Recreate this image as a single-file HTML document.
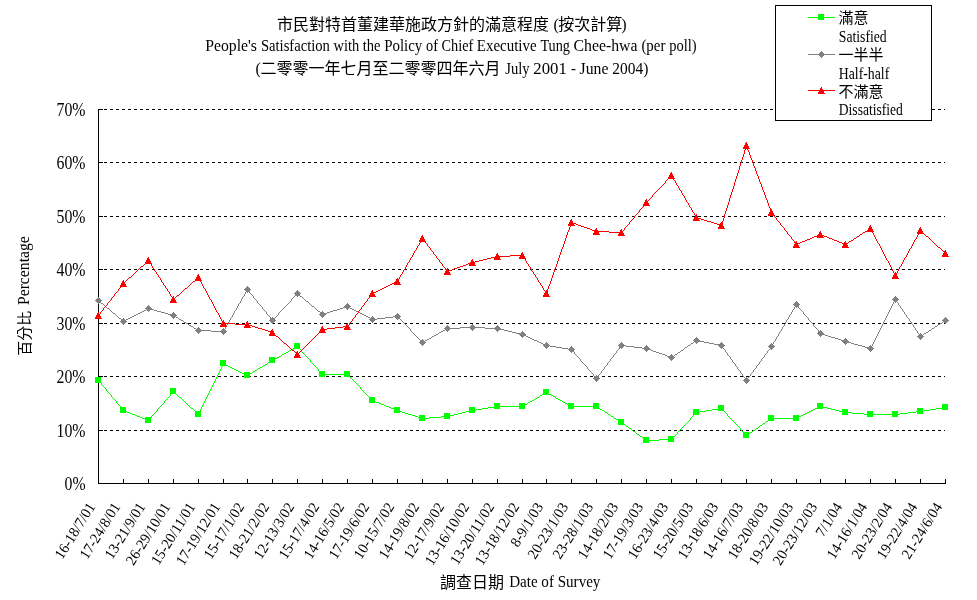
<!DOCTYPE html>
<html><head><meta charset="utf-8"><title>Chart</title>
<style>html,body{margin:0;padding:0;background:#fff}svg{display:block;position:absolute;left:0;top:0;will-change:transform}text{fill:#000}</style></head>
<body>
<svg width="977" height="600" viewBox="0 0 977 600">
<desc>市民對特首董建華施政方針的滿意程度 (按次計算) People's Satisfaction with the Policy of Chief Executive Tung Chee-hwa (per poll) (二零零一年七月至二零零四年六月 July 2001 - June 2004); 滿意 Satisfied; 一半半 Half-half; 不滿意 Dissatisfied; 百分比 Percentage; 調查日期 Date of Survey</desc>
<rect width="977" height="600" fill="#fff"/>
<g stroke="#000" stroke-width="1" shape-rendering="crispEdges" fill="none">
<line x1="98" y1="430.5" x2="945" y2="430.5" stroke-dasharray="3,3"/>
<line x1="99" y1="430.5" x2="103" y2="430.5"/>
<line x1="98" y1="376.5" x2="945" y2="376.5" stroke-dasharray="3,3"/>
<line x1="99" y1="376.5" x2="103" y2="376.5"/>
<line x1="98" y1="323.5" x2="945" y2="323.5" stroke-dasharray="3,3"/>
<line x1="99" y1="323.5" x2="103" y2="323.5"/>
<line x1="98" y1="269.5" x2="945" y2="269.5" stroke-dasharray="3,3"/>
<line x1="99" y1="269.5" x2="103" y2="269.5"/>
<line x1="98" y1="216.5" x2="945" y2="216.5" stroke-dasharray="3,3"/>
<line x1="99" y1="216.5" x2="103" y2="216.5"/>
<line x1="98" y1="162.5" x2="945" y2="162.5" stroke-dasharray="3,3"/>
<line x1="99" y1="162.5" x2="103" y2="162.5"/>
<line x1="98" y1="109.5" x2="945" y2="109.5" stroke-dasharray="3,3"/>
<line x1="99" y1="109.5" x2="103" y2="109.5"/>
<line x1="98.5" y1="109" x2="98.5" y2="484"/>
<line x1="98" y1="483.5" x2="946" y2="483.5"/>
<line x1="98.5" y1="479" x2="98.5" y2="484"/>
<line x1="123.5" y1="479" x2="123.5" y2="484"/>
<line x1="148.5" y1="479" x2="148.5" y2="484"/>
<line x1="173.5" y1="479" x2="173.5" y2="484"/>
<line x1="198.5" y1="479" x2="198.5" y2="484"/>
<line x1="223.5" y1="479" x2="223.5" y2="484"/>
<line x1="247.5" y1="479" x2="247.5" y2="484"/>
<line x1="272.5" y1="479" x2="272.5" y2="484"/>
<line x1="297.5" y1="479" x2="297.5" y2="484"/>
<line x1="322.5" y1="479" x2="322.5" y2="484"/>
<line x1="347.5" y1="479" x2="347.5" y2="484"/>
<line x1="372.5" y1="479" x2="372.5" y2="484"/>
<line x1="397.5" y1="479" x2="397.5" y2="484"/>
<line x1="422.5" y1="479" x2="422.5" y2="484"/>
<line x1="447.5" y1="479" x2="447.5" y2="484"/>
<line x1="472.5" y1="479" x2="472.5" y2="484"/>
<line x1="497.5" y1="479" x2="497.5" y2="484"/>
<line x1="522.5" y1="479" x2="522.5" y2="484"/>
<line x1="546.5" y1="479" x2="546.5" y2="484"/>
<line x1="571.5" y1="479" x2="571.5" y2="484"/>
<line x1="596.5" y1="479" x2="596.5" y2="484"/>
<line x1="621.5" y1="479" x2="621.5" y2="484"/>
<line x1="646.5" y1="479" x2="646.5" y2="484"/>
<line x1="671.5" y1="479" x2="671.5" y2="484"/>
<line x1="696.5" y1="479" x2="696.5" y2="484"/>
<line x1="721.5" y1="479" x2="721.5" y2="484"/>
<line x1="746.5" y1="479" x2="746.5" y2="484"/>
<line x1="771.5" y1="479" x2="771.5" y2="484"/>
<line x1="796.5" y1="479" x2="796.5" y2="484"/>
<line x1="820.5" y1="479" x2="820.5" y2="484"/>
<line x1="845.5" y1="479" x2="845.5" y2="484"/>
<line x1="870.5" y1="479" x2="870.5" y2="484"/>
<line x1="895.5" y1="479" x2="895.5" y2="484"/>
<line x1="920.5" y1="479" x2="920.5" y2="484"/>
<line x1="945.5" y1="479" x2="945.5" y2="484"/>
</g>
<g shape-rendering="crispEdges">
<path d="M295 347.5h2M293 348.5h2M291 349.5h2M289 350.5h2M286 352.5h2M284 353.5h2M282 354.5h2M279 356.5h2M277 357.5h2M275 358.5h2M273 359.5h2M270 361.5h2M268 362.5h2M223 364.5h3M265 364.5h2M226 365.5h2M263 365.5h2M228 366.5h2M230 367.5h2M260 367.5h2M232 368.5h2M258 368.5h2M234 369.5h2M236 370.5h2M255 370.5h2M238 371.5h2M253 371.5h2M240 372.5h2M242 373.5h2M250 373.5h2M244 374.5h2M248 374.5h2M322 374.5h26M246 375.5h2M544 393.5h2M547 393.5h2M542 394.5h2M549 394.5h2M540 395.5h2M551 395.5h2M553 396.5h2M179 397.5h2M537 397.5h2M535 398.5h2M556 398.5h2M558 399.5h2M372 400.5h2M532 400.5h2M560 400.5h2M374 401.5h2M530 401.5h2M376 402.5h3M528 402.5h2M563 402.5h2M379 403.5h2M565 403.5h2M381 404.5h3M525 404.5h2M567 404.5h2M384 405.5h2M523 405.5h2M569 405.5h2M386 406.5h3M494 406.5h29M571 406.5h26M819 406.5h4M389 407.5h2M488 407.5h6M597 407.5h2M817 407.5h2M823 407.5h4M942 407.5h4M191 408.5h2M391 408.5h3M482 408.5h6M718 408.5h4M815 408.5h2M827 408.5h4M936 408.5h6M394 409.5h2M476 409.5h6M600 409.5h2M712 409.5h6M813 409.5h2M831 409.5h4M930 409.5h6M123 410.5h2M396 410.5h3M470 410.5h6M602 410.5h2M706 410.5h6M811 410.5h2M835 410.5h4M924 410.5h6M125 411.5h2M399 411.5h3M466 411.5h4M700 411.5h6M809 411.5h2M839 411.5h4M916 411.5h8M127 412.5h3M402 412.5h3M462 412.5h4M605 412.5h2M696 412.5h4M807 412.5h2M843 412.5h9M908 412.5h8M130 413.5h2M197 413.5h2M405 413.5h3M458 413.5h4M805 413.5h2M852 413.5h12M900 413.5h8M132 414.5h3M408 414.5h4M454 414.5h4M608 414.5h2M803 414.5h2M864 414.5h36M135 415.5h2M412 415.5h3M450 415.5h4M801 415.5h2M137 416.5h3M415 416.5h3M441 416.5h9M611 416.5h2M799 416.5h2M140 417.5h2M418 417.5h3M429 417.5h12M797 417.5h2M142 418.5h3M421 418.5h8M614 418.5h2M771 418.5h26M145 419.5h2M616 419.5h2M769 419.5h2M147 420.5h2M619 421.5h2M766 421.5h2M622 423.5h2M763 423.5h2M760 425.5h2M626 426.5h2M629 428.5h2M756 428.5h2M753 430.5h2M633 431.5h2M750 432.5h2M637 434.5h2M747 434.5h2M640 436.5h2M644 439.5h2M659 439.5h13M646 440.5h13M297.5 346v1M298.5 347v1M299.5 348v1M300.5 349v1M301.5 350v2M288.5 351v1M302.5 352v1M303.5 353v1M304.5 354v1M281.5 355v1M305.5 355v1M306.5 356v1M307.5 357v1M308.5 358v1M309.5 359v1M272.5 360v1M310.5 360v2M311.5 362v1M223.5 363v1M267.5 363v1M312.5 363v1M313.5 364v1M222.5 365v2M314.5 365v1M262.5 366v1M315.5 366v1M221.5 367v2M316.5 367v1M317.5 368v1M220.5 369v2M257.5 369v1M318.5 369v2M219.5 371v2M319.5 371v1M252.5 372v1M320.5 372v1M218.5 373v2M321.5 373v1M217.5 375v2M348.5 375v1M349.5 376v1M216.5 377v2M350.5 377v1M351.5 378v1M215.5 379v2M352.5 379v1M98.5 380v1M353.5 380v1M99.5 381v1M214.5 381v2M354.5 381v1M100.5 382v1M355.5 382v1M101.5 383v2M213.5 383v2M356.5 383v1M357.5 384v1M102.5 385v1M212.5 385v2M358.5 385v1M103.5 386v1M359.5 386v1M104.5 387v1M211.5 387v2M360.5 387v2M105.5 388v1M106.5 389v2M210.5 389v2M361.5 389v1M362.5 390v1M107.5 391v1M173.5 391v1M209.5 391v2M363.5 391v1M108.5 392v1M172.5 392v1M174.5 392v1M364.5 392v1M546.5 392v1M109.5 393v1M171.5 393v1M175.5 393v1M208.5 393v2M365.5 393v1M110.5 394v1M170.5 394v2M176.5 394v1M366.5 394v1M111.5 395v2M177.5 395v1M207.5 395v2M367.5 395v1M169.5 396v1M178.5 396v1M368.5 396v1M539.5 396v1M112.5 397v1M168.5 397v1M206.5 397v2M369.5 397v1M555.5 397v1M113.5 398v1M167.5 398v1M181.5 398v1M370.5 398v1M114.5 399v1M166.5 399v1M182.5 399v1M205.5 399v2M371.5 399v1M534.5 399v1M115.5 400v1M165.5 400v1M183.5 400v1M116.5 401v2M164.5 401v2M184.5 401v1M204.5 401v2M562.5 401v1M185.5 402v1M117.5 403v1M163.5 403v1M186.5 403v1M203.5 403v2M527.5 403v1M118.5 404v1M162.5 404v1M187.5 404v1M119.5 405v1M161.5 405v1M188.5 405v1M202.5 405v2M120.5 406v1M160.5 406v1M189.5 406v1M121.5 407v2M159.5 407v1M190.5 407v1M201.5 407v2M158.5 408v1M599.5 408v1M122.5 409v1M157.5 409v2M193.5 409v1M200.5 409v2M722.5 409v1M194.5 410v1M723.5 410v1M156.5 411v1M195.5 411v1M199.5 411v2M604.5 411v1M724.5 411v1M155.5 412v1M196.5 412v1M725.5 412v1M154.5 413v1M607.5 413v1M695.5 413v1M726.5 413v1M153.5 414v1M198.5 414v1M694.5 414v1M727.5 414v2M152.5 415v1M610.5 415v1M693.5 415v1M151.5 416v2M692.5 416v1M728.5 416v1M613.5 417v1M691.5 417v1M729.5 417v1M150.5 418v1M690.5 418v2M730.5 418v1M149.5 419v1M731.5 419v1M618.5 420v1M689.5 420v1M732.5 420v1M768.5 420v1M688.5 421v1M733.5 421v1M621.5 422v1M687.5 422v1M734.5 422v1M765.5 422v1M686.5 423v1M735.5 423v1M624.5 424v1M685.5 424v1M736.5 424v1M762.5 424v1M625.5 425v1M684.5 425v1M737.5 425v1M683.5 426v1M738.5 426v1M759.5 426v1M628.5 427v1M682.5 427v1M739.5 427v1M758.5 427v1M681.5 428v1M740.5 428v2M631.5 429v1M680.5 429v1M755.5 429v1M632.5 430v1M679.5 430v1M741.5 430v1M678.5 431v1M742.5 431v1M752.5 431v1M635.5 432v1M677.5 432v2M743.5 432v1M636.5 433v1M744.5 433v1M749.5 433v1M676.5 434v1M745.5 434v1M639.5 435v1M675.5 435v1M746.5 435v1M674.5 436v1M642.5 437v1M673.5 437v1M643.5 438v1M672.5 438v1" fill="none" stroke="#00ff00" stroke-width="1"/>
<rect x="95" y="377" width="6" height="6" fill="#00ff00"/>
<rect x="120" y="407" width="6" height="6" fill="#00ff00"/>
<rect x="145" y="417" width="6" height="6" fill="#00ff00"/>
<rect x="170" y="388" width="6" height="6" fill="#00ff00"/>
<rect x="195" y="411" width="6" height="6" fill="#00ff00"/>
<rect x="220" y="360" width="6" height="6" fill="#00ff00"/>
<rect x="244" y="372" width="6" height="6" fill="#00ff00"/>
<rect x="269" y="357" width="6" height="6" fill="#00ff00"/>
<rect x="294" y="343" width="6" height="6" fill="#00ff00"/>
<rect x="319" y="371" width="6" height="6" fill="#00ff00"/>
<rect x="344" y="371" width="6" height="6" fill="#00ff00"/>
<rect x="369" y="397" width="6" height="6" fill="#00ff00"/>
<rect x="394" y="407" width="6" height="6" fill="#00ff00"/>
<rect x="419" y="415" width="6" height="6" fill="#00ff00"/>
<rect x="444" y="413" width="6" height="6" fill="#00ff00"/>
<rect x="469" y="407" width="6" height="6" fill="#00ff00"/>
<rect x="494" y="403" width="6" height="6" fill="#00ff00"/>
<rect x="519" y="403" width="6" height="6" fill="#00ff00"/>
<rect x="543" y="389" width="6" height="6" fill="#00ff00"/>
<rect x="568" y="403" width="6" height="6" fill="#00ff00"/>
<rect x="593" y="403" width="6" height="6" fill="#00ff00"/>
<rect x="618" y="419" width="6" height="6" fill="#00ff00"/>
<rect x="643" y="437" width="6" height="6" fill="#00ff00"/>
<rect x="668" y="436" width="6" height="6" fill="#00ff00"/>
<rect x="693" y="409" width="6" height="6" fill="#00ff00"/>
<rect x="718" y="405" width="6" height="6" fill="#00ff00"/>
<rect x="743" y="432" width="6" height="6" fill="#00ff00"/>
<rect x="768" y="415" width="6" height="6" fill="#00ff00"/>
<rect x="793" y="415" width="6" height="6" fill="#00ff00"/>
<rect x="817" y="403" width="6" height="6" fill="#00ff00"/>
<rect x="842" y="409" width="6" height="6" fill="#00ff00"/>
<rect x="867" y="411" width="6" height="6" fill="#00ff00"/>
<rect x="892" y="411" width="6" height="6" fill="#00ff00"/>
<rect x="917" y="408" width="6" height="6" fill="#00ff00"/>
<rect x="942" y="404" width="6" height="6" fill="#00ff00"/>
</g>
<g shape-rendering="crispEdges">
<path d="M300 296.5h2M306 301.5h2M101 303.5h2M312 306.5h2M346 306.5h2M343 307.5h3M348 307.5h2M107 308.5h2M148 308.5h2M340 308.5h3M350 308.5h2M146 309.5h2M150 309.5h4M337 309.5h3M352 309.5h2M144 310.5h2M154 310.5h3M333 310.5h4M354 310.5h2M142 311.5h2M157 311.5h4M318 311.5h2M330 311.5h3M356 311.5h2M140 312.5h2M161 312.5h4M327 312.5h3M358 312.5h2M113 313.5h2M138 313.5h2M165 313.5h3M324 313.5h3M360 313.5h2M136 314.5h2M168 314.5h4M322 314.5h2M362 314.5h2M134 315.5h2M172 315.5h2M364 315.5h2M132 316.5h2M174 316.5h2M366 316.5h2M393 316.5h5M130 317.5h2M176 317.5h2M368 317.5h2M385 317.5h8M119 318.5h2M128 318.5h2M370 318.5h2M377 318.5h8M126 319.5h2M179 319.5h2M372 319.5h5M124 320.5h2M181 320.5h2M943 321.5h2M184 322.5h2M186 323.5h2M940 323.5h2M938 324.5h2M189 325.5h2M191 326.5h2M935 326.5h2M460 327.5h25M194 328.5h2M447 328.5h13M485 328.5h15M932 328.5h2M196 329.5h2M445 329.5h2M500 329.5h4M198 330.5h13M443 330.5h2M504 330.5h4M929 330.5h2M211 331.5h13M441 331.5h2M508 331.5h4M439 332.5h2M512 332.5h4M926 332.5h2M516 333.5h4M820 333.5h2M924 333.5h2M436 334.5h2M520 334.5h4M822 334.5h3M434 335.5h2M524 335.5h2M825 335.5h3M921 335.5h2M432 336.5h2M526 336.5h2M828 336.5h3M528 337.5h2M831 337.5h4M429 338.5h2M530 338.5h2M835 338.5h3M427 339.5h2M532 339.5h2M838 339.5h3M425 340.5h2M534 340.5h3M696 340.5h3M841 340.5h3M423 341.5h2M537 341.5h2M694 341.5h2M699 341.5h5M844 341.5h3M539 342.5h2M704 342.5h5M847 342.5h4M541 343.5h2M691 343.5h2M709 343.5h5M851 343.5h3M543 344.5h2M714 344.5h5M854 344.5h4M545 345.5h5M621 345.5h5M688 345.5h2M719 345.5h3M858 345.5h4M550 346.5h6M626 346.5h8M862 346.5h3M556 347.5h6M634 347.5h8M685 347.5h2M865 347.5h4M562 348.5h6M642 348.5h6M869 348.5h2M568 349.5h4M648 349.5h3M651 350.5h2M681 350.5h2M653 351.5h3M656 352.5h3M678 352.5h2M659 353.5h3M662 354.5h3M675 354.5h2M665 355.5h2M667 356.5h3M672 356.5h2M670 357.5h2M247.5 289v1M246.5 290v2M248.5 290v1M249.5 291v2M245.5 292v2M250.5 293v1M297.5 293v1M244.5 294v2M251.5 294v1M296.5 294v1M298.5 294v1M252.5 295v1M295.5 295v1M299.5 295v1M243.5 296v1M253.5 296v2M294.5 296v1M242.5 297v2M293.5 297v1M302.5 297v1M254.5 298v1M292.5 298v1M303.5 298v1M241.5 299v2M255.5 299v1M291.5 299v2M304.5 299v1M895.5 299v1M98.5 300v1M256.5 300v1M305.5 300v1M894.5 300v2M896.5 300v2M99.5 301v1M240.5 301v2M257.5 301v2M290.5 301v1M100.5 302v1M289.5 302v1M308.5 302v1M893.5 302v2M897.5 302v1M239.5 303v1M258.5 303v1M288.5 303v1M309.5 303v1M898.5 303v2M103.5 304v1M238.5 304v2M259.5 304v1M287.5 304v1M310.5 304v1M796.5 304v1M892.5 304v2M104.5 305v1M260.5 305v1M286.5 305v1M311.5 305v1M795.5 305v2M797.5 305v1M899.5 305v1M105.5 306v1M237.5 306v2M261.5 306v1M285.5 306v1M798.5 306v2M891.5 306v2M900.5 306v2M106.5 307v1M262.5 307v2M284.5 307v1M314.5 307v1M794.5 307v2M236.5 308v2M283.5 308v1M315.5 308v1M799.5 308v1M890.5 308v2M901.5 308v1M109.5 309v1M263.5 309v1M282.5 309v1M316.5 309v1M793.5 309v1M800.5 309v1M902.5 309v2M110.5 310v1M235.5 310v1M264.5 310v1M281.5 310v1M317.5 310v1M792.5 310v2M801.5 310v1M889.5 310v2M111.5 311v1M234.5 311v2M265.5 311v1M280.5 311v1M802.5 311v1M903.5 311v1M112.5 312v1M266.5 312v2M279.5 312v1M320.5 312v1M791.5 312v2M803.5 312v2M888.5 312v2M904.5 312v2M233.5 313v2M278.5 313v2M321.5 313v1M115.5 314v1M267.5 314v1M790.5 314v1M804.5 314v1M887.5 314v2M905.5 314v1M116.5 315v1M232.5 315v2M268.5 315v1M277.5 315v1M789.5 315v2M805.5 315v1M906.5 315v2M117.5 316v1M269.5 316v1M276.5 316v1M806.5 316v1M886.5 316v2M118.5 317v1M231.5 317v1M270.5 317v2M275.5 317v1M398.5 317v1M788.5 317v2M807.5 317v1M907.5 317v1M178.5 318v1M230.5 318v2M274.5 318v1M399.5 318v1M808.5 318v2M885.5 318v2M908.5 318v1M121.5 319v1M271.5 319v1M273.5 319v1M400.5 319v1M787.5 319v1M909.5 319v2M122.5 320v1M229.5 320v2M272.5 320v1M401.5 320v1M786.5 320v2M809.5 320v1M884.5 320v2M945.5 320v1M123.5 321v1M183.5 321v1M402.5 321v1M810.5 321v1M910.5 321v1M228.5 322v2M403.5 322v1M785.5 322v2M811.5 322v1M883.5 322v2M911.5 322v2M942.5 322v1M404.5 323v1M812.5 323v1M188.5 324v1M227.5 324v1M405.5 324v1M784.5 324v2M813.5 324v2M882.5 324v2M912.5 324v1M226.5 325v2M406.5 325v1M913.5 325v2M937.5 325v1M407.5 326v1M783.5 326v1M814.5 326v1M881.5 326v2M193.5 327v1M225.5 327v2M408.5 327v1M782.5 327v2M815.5 327v1M914.5 327v1M934.5 327v1M409.5 328v1M816.5 328v1M880.5 328v2M915.5 328v2M224.5 329v2M410.5 329v2M781.5 329v2M817.5 329v1M931.5 329v1M818.5 330v2M879.5 330v2M916.5 330v1M411.5 331v1M780.5 331v1M917.5 331v2M928.5 331v1M412.5 332v1M779.5 332v2M819.5 332v1M878.5 332v2M413.5 333v1M438.5 333v1M918.5 333v1M414.5 334v1M778.5 334v2M877.5 334v2M919.5 334v2M923.5 334v1M415.5 335v1M416.5 336v1M777.5 336v1M876.5 336v2M920.5 336v1M417.5 337v1M431.5 337v1M776.5 337v2M418.5 338v1M875.5 338v2M419.5 339v1M775.5 339v2M420.5 340v1M874.5 340v2M421.5 341v1M774.5 341v1M422.5 342v1M693.5 342v1M773.5 342v2M873.5 342v2M690.5 344v1M772.5 344v2M872.5 344v2M620.5 346v1M687.5 346v1M722.5 346v2M771.5 346v1M871.5 346v2M619.5 347v2M770.5 347v2M684.5 348v1M723.5 348v1M618.5 349v1M683.5 349v1M724.5 349v1M769.5 349v1M572.5 350v1M617.5 350v1M725.5 350v2M768.5 350v1M573.5 351v1M616.5 351v2M680.5 351v1M767.5 351v2M574.5 352v2M726.5 352v1M615.5 353v1M677.5 353v1M727.5 353v2M766.5 353v1M575.5 354v1M614.5 354v1M765.5 354v1M576.5 355v1M613.5 355v2M674.5 355v1M728.5 355v1M764.5 355v2M577.5 356v1M729.5 356v1M578.5 357v1M612.5 357v1M730.5 357v2M763.5 357v1M579.5 358v1M611.5 358v1M762.5 358v1M580.5 359v2M610.5 359v2M731.5 359v1M761.5 359v2M732.5 360v2M581.5 361v1M609.5 361v1M760.5 361v1M582.5 362v1M608.5 362v1M733.5 362v1M759.5 362v2M583.5 363v1M607.5 363v2M734.5 363v1M584.5 364v1M735.5 364v2M758.5 364v1M585.5 365v1M606.5 365v1M757.5 365v1M586.5 366v1M605.5 366v1M736.5 366v1M756.5 366v2M587.5 367v2M604.5 367v2M737.5 367v2M755.5 368v1M588.5 369v1M603.5 369v1M738.5 369v1M754.5 369v1M589.5 370v1M602.5 370v1M739.5 370v1M753.5 370v2M590.5 371v1M601.5 371v2M740.5 371v2M591.5 372v1M752.5 372v1M592.5 373v1M600.5 373v1M741.5 373v1M751.5 373v1M593.5 374v2M599.5 374v1M742.5 374v2M750.5 374v2M598.5 375v2M594.5 376v1M743.5 376v1M749.5 376v1M595.5 377v1M597.5 377v1M744.5 377v1M748.5 377v1M596.5 378v1M745.5 378v2M747.5 378v2M746.5 380v1" fill="none" stroke="#808080" stroke-width="1"/>
<path d="M98 297.5h1M97 298.5h3M96 299.5h5M95 300.5h7M96 301.5h5M97 302.5h3M98 303.5h1" stroke="#808080" stroke-width="1" fill="none"/>
<path d="M123 318.5h1M122 319.5h3M121 320.5h5M120 321.5h7M121 322.5h5M122 323.5h3M123 324.5h1" stroke="#808080" stroke-width="1" fill="none"/>
<path d="M148 305.5h1M147 306.5h3M146 307.5h5M145 308.5h7M146 309.5h5M147 310.5h3M148 311.5h1" stroke="#808080" stroke-width="1" fill="none"/>
<path d="M173 312.5h1M172 313.5h3M171 314.5h5M170 315.5h7M171 316.5h5M172 317.5h3M173 318.5h1" stroke="#808080" stroke-width="1" fill="none"/>
<path d="M198 327.5h1M197 328.5h3M196 329.5h5M195 330.5h7M196 331.5h5M197 332.5h3M198 333.5h1" stroke="#808080" stroke-width="1" fill="none"/>
<path d="M223 328.5h1M222 329.5h3M221 330.5h5M220 331.5h7M221 332.5h5M222 333.5h3M223 334.5h1" stroke="#808080" stroke-width="1" fill="none"/>
<path d="M247 286.5h1M246 287.5h3M245 288.5h5M244 289.5h7M245 290.5h5M246 291.5h3M247 292.5h1" stroke="#808080" stroke-width="1" fill="none"/>
<path d="M272 317.5h1M271 318.5h3M270 319.5h5M269 320.5h7M270 321.5h5M271 322.5h3M272 323.5h1" stroke="#808080" stroke-width="1" fill="none"/>
<path d="M297 290.5h1M296 291.5h3M295 292.5h5M294 293.5h7M295 294.5h5M296 295.5h3M297 296.5h1" stroke="#808080" stroke-width="1" fill="none"/>
<path d="M322 311.5h1M321 312.5h3M320 313.5h5M319 314.5h7M320 315.5h5M321 316.5h3M322 317.5h1" stroke="#808080" stroke-width="1" fill="none"/>
<path d="M347 303.5h1M346 304.5h3M345 305.5h5M344 306.5h7M345 307.5h5M346 308.5h3M347 309.5h1" stroke="#808080" stroke-width="1" fill="none"/>
<path d="M372 316.5h1M371 317.5h3M370 318.5h5M369 319.5h7M370 320.5h5M371 321.5h3M372 322.5h1" stroke="#808080" stroke-width="1" fill="none"/>
<path d="M397 313.5h1M396 314.5h3M395 315.5h5M394 316.5h7M395 317.5h5M396 318.5h3M397 319.5h1" stroke="#808080" stroke-width="1" fill="none"/>
<path d="M422 339.5h1M421 340.5h3M420 341.5h5M419 342.5h7M420 343.5h5M421 344.5h3M422 345.5h1" stroke="#808080" stroke-width="1" fill="none"/>
<path d="M447 325.5h1M446 326.5h3M445 327.5h5M444 328.5h7M445 329.5h5M446 330.5h3M447 331.5h1" stroke="#808080" stroke-width="1" fill="none"/>
<path d="M472 324.5h1M471 325.5h3M470 326.5h5M469 327.5h7M470 328.5h5M471 329.5h3M472 330.5h1" stroke="#808080" stroke-width="1" fill="none"/>
<path d="M497 325.5h1M496 326.5h3M495 327.5h5M494 328.5h7M495 329.5h5M496 330.5h3M497 331.5h1" stroke="#808080" stroke-width="1" fill="none"/>
<path d="M522 331.5h1M521 332.5h3M520 333.5h5M519 334.5h7M520 335.5h5M521 336.5h3M522 337.5h1" stroke="#808080" stroke-width="1" fill="none"/>
<path d="M546 342.5h1M545 343.5h3M544 344.5h5M543 345.5h7M544 346.5h5M545 347.5h3M546 348.5h1" stroke="#808080" stroke-width="1" fill="none"/>
<path d="M571 346.5h1M570 347.5h3M569 348.5h5M568 349.5h7M569 350.5h5M570 351.5h3M571 352.5h1" stroke="#808080" stroke-width="1" fill="none"/>
<path d="M596 375.5h1M595 376.5h3M594 377.5h5M593 378.5h7M594 379.5h5M595 380.5h3M596 381.5h1" stroke="#808080" stroke-width="1" fill="none"/>
<path d="M621 342.5h1M620 343.5h3M619 344.5h5M618 345.5h7M619 346.5h5M620 347.5h3M621 348.5h1" stroke="#808080" stroke-width="1" fill="none"/>
<path d="M646 345.5h1M645 346.5h3M644 347.5h5M643 348.5h7M644 349.5h5M645 350.5h3M646 351.5h1" stroke="#808080" stroke-width="1" fill="none"/>
<path d="M671 354.5h1M670 355.5h3M669 356.5h5M668 357.5h7M669 358.5h5M670 359.5h3M671 360.5h1" stroke="#808080" stroke-width="1" fill="none"/>
<path d="M696 337.5h1M695 338.5h3M694 339.5h5M693 340.5h7M694 341.5h5M695 342.5h3M696 343.5h1" stroke="#808080" stroke-width="1" fill="none"/>
<path d="M721 342.5h1M720 343.5h3M719 344.5h5M718 345.5h7M719 346.5h5M720 347.5h3M721 348.5h1" stroke="#808080" stroke-width="1" fill="none"/>
<path d="M746 377.5h1M745 378.5h3M744 379.5h5M743 380.5h7M744 381.5h5M745 382.5h3M746 383.5h1" stroke="#808080" stroke-width="1" fill="none"/>
<path d="M771 343.5h1M770 344.5h3M769 345.5h5M768 346.5h7M769 347.5h5M770 348.5h3M771 349.5h1" stroke="#808080" stroke-width="1" fill="none"/>
<path d="M796 301.5h1M795 302.5h3M794 303.5h5M793 304.5h7M794 305.5h5M795 306.5h3M796 307.5h1" stroke="#808080" stroke-width="1" fill="none"/>
<path d="M820 330.5h1M819 331.5h3M818 332.5h5M817 333.5h7M818 334.5h5M819 335.5h3M820 336.5h1" stroke="#808080" stroke-width="1" fill="none"/>
<path d="M845 338.5h1M844 339.5h3M843 340.5h5M842 341.5h7M843 342.5h5M844 343.5h3M845 344.5h1" stroke="#808080" stroke-width="1" fill="none"/>
<path d="M870 345.5h1M869 346.5h3M868 347.5h5M867 348.5h7M868 349.5h5M869 350.5h3M870 351.5h1" stroke="#808080" stroke-width="1" fill="none"/>
<path d="M895 296.5h1M894 297.5h3M893 298.5h5M892 299.5h7M893 300.5h5M894 301.5h3M895 302.5h1" stroke="#808080" stroke-width="1" fill="none"/>
<path d="M920 333.5h1M919 334.5h3M918 335.5h5M917 336.5h7M918 337.5h5M919 338.5h3M920 339.5h1" stroke="#808080" stroke-width="1" fill="none"/>
<path d="M945 317.5h1M944 318.5h3M943 319.5h5M942 320.5h7M943 321.5h5M944 322.5h3M945 323.5h1" stroke="#808080" stroke-width="1" fill="none"/>
</g>
<g shape-rendering="crispEdges">
<path d="M696 217.5h2M698 218.5h3M701 219.5h3M704 220.5h3M707 221.5h4M571 222.5h2M711 222.5h3M573 223.5h3M714 223.5h3M576 224.5h2M717 224.5h3M578 225.5h3M720 225.5h2M581 226.5h3M584 227.5h3M587 228.5h3M590 229.5h2M868 229.5h2M592 230.5h3M595 231.5h14M865 231.5h2M609 232.5h13M863 232.5h2M819 234.5h3M860 234.5h2M817 235.5h2M822 235.5h2M814 236.5h3M824 236.5h3M857 236.5h2M926 236.5h2M812 237.5h2M827 237.5h2M810 238.5h2M829 238.5h3M854 238.5h2M807 239.5h3M832 239.5h2M805 240.5h2M834 240.5h3M851 240.5h2M802 241.5h3M837 241.5h2M849 241.5h2M800 242.5h2M839 242.5h3M798 243.5h2M842 243.5h2M846 243.5h2M796 244.5h2M844 244.5h2M938 247.5h2M510 255.5h13M495 256.5h15M491 257.5h4M487 258.5h4M483 259.5h4M479 260.5h4M475 261.5h4M471 262.5h4M468 263.5h3M466 264.5h2M463 265.5h3M141 266.5h2M460 266.5h3M457 267.5h3M454 268.5h3M452 269.5h2M449 270.5h3M447 271.5h2M129 277.5h2M193 281.5h2M396 281.5h2M394 282.5h2M392 283.5h2M390 284.5h2M388 285.5h2M386 286.5h2M384 287.5h2M185 288.5h2M382 288.5h2M380 289.5h2M378 290.5h2M376 291.5h2M374 292.5h2M545 292.5h2M372 293.5h2M177 295.5h2M223 323.5h12M235 324.5h14M249 325.5h3M252 326.5h3M343 326.5h5M255 327.5h3M335 327.5h8M258 328.5h4M327 328.5h8M262 329.5h3M322 329.5h5M265 330.5h3M268 331.5h3M271 332.5h2M276 336.5h2M284 343.5h2M292 350.5h2M746.5 145v2M745.5 147v3M747.5 147v3M744.5 150v4M748.5 150v2M749.5 152v3M743.5 154v3M750.5 155v3M742.5 157v3M751.5 158v2M741.5 160v3M752.5 160v3M740.5 163v3M753.5 163v3M739.5 166v4M754.5 166v2M755.5 168v3M738.5 170v3M756.5 171v3M737.5 173v3M757.5 174v2M671.5 175v1M670.5 176v1M672.5 176v2M736.5 176v3M758.5 176v3M669.5 177v1M668.5 178v1M673.5 178v2M667.5 179v1M735.5 179v3M759.5 179v3M666.5 180v1M674.5 180v1M665.5 181v2M675.5 181v2M734.5 182v4M760.5 182v2M664.5 183v1M676.5 183v2M663.5 184v1M761.5 184v3M662.5 185v1M677.5 185v1M661.5 186v1M678.5 186v2M733.5 186v3M660.5 187v1M762.5 187v3M659.5 188v1M679.5 188v2M658.5 189v1M732.5 189v3M657.5 190v1M680.5 190v1M763.5 190v2M656.5 191v1M681.5 191v2M655.5 192v1M731.5 192v3M764.5 192v3M654.5 193v1M682.5 193v2M653.5 194v1M652.5 195v2M683.5 195v1M730.5 195v3M765.5 195v3M684.5 196v2M651.5 197v1M650.5 198v1M685.5 198v2M729.5 198v4M766.5 198v2M649.5 199v1M648.5 200v1M686.5 200v2M767.5 200v3M647.5 201v1M646.5 202v1M687.5 202v1M728.5 202v3M645.5 203v1M688.5 203v2M768.5 203v3M644.5 204v2M689.5 205v2M727.5 205v3M643.5 206v1M769.5 206v2M642.5 207v1M690.5 207v1M641.5 208v1M691.5 208v2M726.5 208v3M770.5 208v3M640.5 209v1M639.5 210v2M692.5 210v2M725.5 211v3M771.5 211v2M638.5 212v1M693.5 212v1M637.5 213v1M694.5 213v2M772.5 213v1M636.5 214v1M724.5 214v4M773.5 214v2M635.5 215v1M695.5 215v2M634.5 216v2M774.5 216v1M775.5 217v1M633.5 218v1M723.5 218v3M776.5 218v2M632.5 219v1M631.5 220v1M777.5 220v1M630.5 221v1M722.5 221v3M778.5 221v1M629.5 222v2M779.5 222v1M571.5 223v1M780.5 223v2M570.5 224v3M628.5 224v1M721.5 224v1M627.5 225v1M781.5 225v1M626.5 226v1M782.5 226v1M569.5 227v3M625.5 227v1M783.5 227v1M624.5 228v2M784.5 228v2M870.5 228v1M871.5 229v2M568.5 230v2M623.5 230v1M785.5 230v1M867.5 230v1M920.5 230v1M622.5 231v1M786.5 231v1M872.5 231v2M919.5 231v2M921.5 231v1M567.5 232v3M787.5 232v2M922.5 232v1M862.5 233v1M873.5 233v2M918.5 233v2M923.5 233v1M788.5 234v1M924.5 234v1M566.5 235v3M789.5 235v1M859.5 235v1M874.5 235v2M917.5 235v2M925.5 235v1M790.5 236v1M791.5 237v2M856.5 237v1M875.5 237v2M916.5 237v2M928.5 237v1M422.5 238v1M565.5 238v3M929.5 238v1M421.5 239v2M423.5 239v1M792.5 239v1M853.5 239v1M876.5 239v2M915.5 239v1M930.5 239v1M424.5 240v2M793.5 240v1M914.5 240v2M931.5 240v1M420.5 241v2M564.5 241v3M794.5 241v2M877.5 241v2M932.5 241v1M425.5 242v1M848.5 242v1M913.5 242v2M933.5 242v1M419.5 243v2M426.5 243v1M795.5 243v1M878.5 243v1M934.5 243v1M427.5 244v2M563.5 244v3M879.5 244v2M912.5 244v2M935.5 244v1M418.5 245v1M936.5 245v1M417.5 246v2M428.5 246v1M880.5 246v2M911.5 246v2M937.5 246v1M429.5 247v1M562.5 247v2M416.5 248v2M430.5 248v2M881.5 248v2M910.5 248v1M940.5 248v1M561.5 249v3M909.5 249v2M941.5 249v1M415.5 250v1M431.5 250v1M882.5 250v2M942.5 250v1M414.5 251v2M432.5 251v1M908.5 251v2M943.5 251v1M433.5 252v2M560.5 252v3M883.5 252v2M944.5 252v1M413.5 253v2M907.5 253v2M945.5 253v1M434.5 254v1M884.5 254v2M412.5 255v2M435.5 255v1M559.5 255v3M906.5 255v2M436.5 256v2M523.5 256v2M885.5 256v2M411.5 257v1M905.5 257v1M410.5 258v2M437.5 258v1M524.5 258v1M558.5 258v3M886.5 258v2M904.5 258v2M438.5 259v1M525.5 259v2M148.5 260v1M409.5 260v2M439.5 260v2M887.5 260v1M903.5 260v2M147.5 261v1M149.5 261v2M526.5 261v2M557.5 261v3M888.5 261v2M146.5 262v1M408.5 262v1M440.5 262v1M902.5 262v2M145.5 263v1M150.5 263v1M407.5 263v2M441.5 263v1M527.5 263v1M889.5 263v2M144.5 264v1M151.5 264v2M442.5 264v2M528.5 264v2M556.5 264v3M901.5 264v2M143.5 265v1M406.5 265v2M890.5 265v2M152.5 266v2M443.5 266v1M529.5 266v1M900.5 266v1M140.5 267v1M405.5 267v2M444.5 267v1M530.5 267v2M555.5 267v2M891.5 267v2M899.5 267v2M139.5 268v1M153.5 268v1M445.5 268v2M138.5 269v1M154.5 269v2M404.5 269v1M531.5 269v2M554.5 269v3M892.5 269v2M898.5 269v2M137.5 270v1M403.5 270v2M446.5 270v1M136.5 271v1M155.5 271v1M532.5 271v1M893.5 271v2M897.5 271v2M135.5 272v1M156.5 272v2M402.5 272v2M533.5 272v2M553.5 272v3M134.5 273v1M894.5 273v2M896.5 273v2M133.5 274v1M157.5 274v1M401.5 274v1M534.5 274v1M132.5 275v1M158.5 275v2M400.5 275v2M535.5 275v2M552.5 275v3M895.5 275v1M131.5 276v1M159.5 277v1M198.5 277v1M399.5 277v2M536.5 277v1M128.5 278v1M160.5 278v2M197.5 278v1M199.5 278v2M537.5 278v2M551.5 278v3M127.5 279v1M196.5 279v1M398.5 279v2M126.5 280v1M161.5 280v2M195.5 280v1M200.5 280v2M538.5 280v2M125.5 281v1M550.5 281v3M124.5 282v1M162.5 282v1M192.5 282v1M201.5 282v2M539.5 282v1M123.5 283v1M163.5 283v2M191.5 283v1M540.5 283v2M122.5 284v1M190.5 284v1M202.5 284v2M549.5 284v2M121.5 285v2M164.5 285v1M189.5 285v1M541.5 285v1M165.5 286v2M188.5 286v1M203.5 286v2M542.5 286v2M548.5 286v3M120.5 287v1M187.5 287v1M119.5 288v1M166.5 288v1M204.5 288v1M543.5 288v2M118.5 289v2M167.5 289v2M184.5 289v1M205.5 289v2M547.5 289v3M183.5 290v1M544.5 290v1M117.5 291v1M168.5 291v1M182.5 291v1M206.5 291v2M545.5 291v1M116.5 292v1M169.5 292v2M181.5 292v1M115.5 293v1M180.5 293v1M207.5 293v2M546.5 293v1M114.5 294v2M170.5 294v2M179.5 294v1M371.5 294v1M208.5 295v2M370.5 295v2M113.5 296v1M171.5 296v1M176.5 296v1M112.5 297v1M172.5 297v2M175.5 297v1M209.5 297v2M369.5 297v1M111.5 298v2M174.5 298v1M368.5 298v1M173.5 299v1M210.5 299v1M367.5 299v2M110.5 300v1M211.5 300v2M109.5 301v1M366.5 301v1M108.5 302v1M212.5 302v2M365.5 302v1M107.5 303v2M364.5 303v2M213.5 304v2M106.5 305v1M363.5 305v1M105.5 306v1M214.5 306v2M362.5 306v1M104.5 307v1M361.5 307v2M103.5 308v2M215.5 308v2M360.5 309v1M102.5 310v1M216.5 310v2M359.5 310v1M101.5 311v1M358.5 311v2M100.5 312v2M217.5 312v1M218.5 313v2M357.5 313v1M99.5 314v1M356.5 314v1M98.5 315v1M219.5 315v2M355.5 315v2M220.5 317v2M354.5 317v1M353.5 318v1M221.5 319v2M352.5 319v2M222.5 321v2M351.5 321v1M350.5 322v1M349.5 323v2M348.5 325v1M321.5 330v1M320.5 331v1M319.5 332v1M273.5 333v1M318.5 333v1M274.5 334v1M317.5 334v1M275.5 335v1M316.5 335v1M315.5 336v1M278.5 337v1M314.5 337v1M279.5 338v1M313.5 338v1M280.5 339v1M312.5 339v1M281.5 340v1M311.5 340v1M282.5 341v1M310.5 341v1M283.5 342v1M309.5 342v1M308.5 343v1M286.5 344v1M307.5 344v1M287.5 345v1M306.5 345v1M288.5 346v1M305.5 346v1M289.5 347v1M304.5 347v1M290.5 348v1M303.5 348v1M291.5 349v1M302.5 349v1M301.5 350v1M294.5 351v1M300.5 351v1M295.5 352v1M299.5 352v1M296.5 353v1M298.5 353v1M297.5 354v1" fill="none" stroke="#ff0000" stroke-width="1"/>
<path d="M98 312.5h1M97 313.5h2M97 314.5h3M96 315.5h4M96 316.5h5M95 317.5h6M95 318.5h7" stroke="#ff0000" stroke-width="1" fill="none"/>
<path d="M123 280.5h1M122 281.5h2M122 282.5h3M121 283.5h4M121 284.5h5M120 285.5h6M120 286.5h7" stroke="#ff0000" stroke-width="1" fill="none"/>
<path d="M148 257.5h1M147 258.5h2M147 259.5h3M146 260.5h4M146 261.5h5M145 262.5h6M145 263.5h7" stroke="#ff0000" stroke-width="1" fill="none"/>
<path d="M173 296.5h1M172 297.5h2M172 298.5h3M171 299.5h4M171 300.5h5M170 301.5h6M170 302.5h7" stroke="#ff0000" stroke-width="1" fill="none"/>
<path d="M198 274.5h1M197 275.5h2M197 276.5h3M196 277.5h4M196 278.5h5M195 279.5h6M195 280.5h7" stroke="#ff0000" stroke-width="1" fill="none"/>
<path d="M223 320.5h1M222 321.5h2M222 322.5h3M221 323.5h4M221 324.5h5M220 325.5h6M220 326.5h7" stroke="#ff0000" stroke-width="1" fill="none"/>
<path d="M247 321.5h1M246 322.5h2M246 323.5h3M245 324.5h4M245 325.5h5M244 326.5h6M244 327.5h7" stroke="#ff0000" stroke-width="1" fill="none"/>
<path d="M272 329.5h1M271 330.5h2M271 331.5h3M270 332.5h4M270 333.5h5M269 334.5h6M269 335.5h7" stroke="#ff0000" stroke-width="1" fill="none"/>
<path d="M297 351.5h1M296 352.5h2M296 353.5h3M295 354.5h4M295 355.5h5M294 356.5h6M294 357.5h7" stroke="#ff0000" stroke-width="1" fill="none"/>
<path d="M322 326.5h1M321 327.5h2M321 328.5h3M320 329.5h4M320 330.5h5M319 331.5h6M319 332.5h7" stroke="#ff0000" stroke-width="1" fill="none"/>
<path d="M347 323.5h1M346 324.5h2M346 325.5h3M345 326.5h4M345 327.5h5M344 328.5h6M344 329.5h7" stroke="#ff0000" stroke-width="1" fill="none"/>
<path d="M372 290.5h1M371 291.5h2M371 292.5h3M370 293.5h4M370 294.5h5M369 295.5h6M369 296.5h7" stroke="#ff0000" stroke-width="1" fill="none"/>
<path d="M397 278.5h1M396 279.5h2M396 280.5h3M395 281.5h4M395 282.5h5M394 283.5h6M394 284.5h7" stroke="#ff0000" stroke-width="1" fill="none"/>
<path d="M422 235.5h1M421 236.5h2M421 237.5h3M420 238.5h4M420 239.5h5M419 240.5h6M419 241.5h7" stroke="#ff0000" stroke-width="1" fill="none"/>
<path d="M447 268.5h1M446 269.5h2M446 270.5h3M445 271.5h4M445 272.5h5M444 273.5h6M444 274.5h7" stroke="#ff0000" stroke-width="1" fill="none"/>
<path d="M472 259.5h1M471 260.5h2M471 261.5h3M470 262.5h4M470 263.5h5M469 264.5h6M469 265.5h7" stroke="#ff0000" stroke-width="1" fill="none"/>
<path d="M497 253.5h1M496 254.5h2M496 255.5h3M495 256.5h4M495 257.5h5M494 258.5h6M494 259.5h7" stroke="#ff0000" stroke-width="1" fill="none"/>
<path d="M522 252.5h1M521 253.5h2M521 254.5h3M520 255.5h4M520 256.5h5M519 257.5h6M519 258.5h7" stroke="#ff0000" stroke-width="1" fill="none"/>
<path d="M546 290.5h1M545 291.5h2M545 292.5h3M544 293.5h4M544 294.5h5M543 295.5h6M543 296.5h7" stroke="#ff0000" stroke-width="1" fill="none"/>
<path d="M571 219.5h1M570 220.5h2M570 221.5h3M569 222.5h4M569 223.5h5M568 224.5h6M568 225.5h7" stroke="#ff0000" stroke-width="1" fill="none"/>
<path d="M596 228.5h1M595 229.5h2M595 230.5h3M594 231.5h4M594 232.5h5M593 233.5h6M593 234.5h7" stroke="#ff0000" stroke-width="1" fill="none"/>
<path d="M621 229.5h1M620 230.5h2M620 231.5h3M619 232.5h4M619 233.5h5M618 234.5h6M618 235.5h7" stroke="#ff0000" stroke-width="1" fill="none"/>
<path d="M646 199.5h1M645 200.5h2M645 201.5h3M644 202.5h4M644 203.5h5M643 204.5h6M643 205.5h7" stroke="#ff0000" stroke-width="1" fill="none"/>
<path d="M671 172.5h1M670 173.5h2M670 174.5h3M669 175.5h4M669 176.5h5M668 177.5h6M668 178.5h7" stroke="#ff0000" stroke-width="1" fill="none"/>
<path d="M696 214.5h1M695 215.5h2M695 216.5h3M694 217.5h4M694 218.5h5M693 219.5h6M693 220.5h7" stroke="#ff0000" stroke-width="1" fill="none"/>
<path d="M721 222.5h1M720 223.5h2M720 224.5h3M719 225.5h4M719 226.5h5M718 227.5h6M718 228.5h7" stroke="#ff0000" stroke-width="1" fill="none"/>
<path d="M746 142.5h1M745 143.5h2M745 144.5h3M744 145.5h4M744 146.5h5M743 147.5h6M743 148.5h7" stroke="#ff0000" stroke-width="1" fill="none"/>
<path d="M771 209.5h1M770 210.5h2M770 211.5h3M769 212.5h4M769 213.5h5M768 214.5h6M768 215.5h7" stroke="#ff0000" stroke-width="1" fill="none"/>
<path d="M796 241.5h1M795 242.5h2M795 243.5h3M794 244.5h4M794 245.5h5M793 246.5h6M793 247.5h7" stroke="#ff0000" stroke-width="1" fill="none"/>
<path d="M820 231.5h1M819 232.5h2M819 233.5h3M818 234.5h4M818 235.5h5M817 236.5h6M817 237.5h7" stroke="#ff0000" stroke-width="1" fill="none"/>
<path d="M845 241.5h1M844 242.5h2M844 243.5h3M843 244.5h4M843 245.5h5M842 246.5h6M842 247.5h7" stroke="#ff0000" stroke-width="1" fill="none"/>
<path d="M870 225.5h1M869 226.5h2M869 227.5h3M868 228.5h4M868 229.5h5M867 230.5h6M867 231.5h7" stroke="#ff0000" stroke-width="1" fill="none"/>
<path d="M895 272.5h1M894 273.5h2M894 274.5h3M893 275.5h4M893 276.5h5M892 277.5h6M892 278.5h7" stroke="#ff0000" stroke-width="1" fill="none"/>
<path d="M920 227.5h1M919 228.5h2M919 229.5h3M918 230.5h4M918 231.5h5M917 232.5h6M917 233.5h7" stroke="#ff0000" stroke-width="1" fill="none"/>
<path d="M945 250.5h1M944 251.5h2M944 252.5h3M943 253.5h4M943 254.5h5M942 255.5h6M942 256.5h7" stroke="#ff0000" stroke-width="1" fill="none"/>
</g>
<text x="64.50" y="489.80" font-size="18.00" font-family="'Liberation Serif', serif" text-anchor="start" xml:space="preserve" textLength="21.0" lengthAdjust="spacingAndGlyphs">0%</text>
<text x="56.50" y="436.80" font-size="18.00" font-family="'Liberation Serif', serif" text-anchor="start" xml:space="preserve" textLength="29.0" lengthAdjust="spacingAndGlyphs">10%</text>
<text x="56.50" y="382.80" font-size="18.00" font-family="'Liberation Serif', serif" text-anchor="start" xml:space="preserve" textLength="29.0" lengthAdjust="spacingAndGlyphs">20%</text>
<text x="56.50" y="329.80" font-size="18.00" font-family="'Liberation Serif', serif" text-anchor="start" xml:space="preserve" textLength="29.0" lengthAdjust="spacingAndGlyphs">30%</text>
<text x="56.50" y="275.80" font-size="18.00" font-family="'Liberation Serif', serif" text-anchor="start" xml:space="preserve" textLength="29.0" lengthAdjust="spacingAndGlyphs">40%</text>
<text x="56.50" y="222.80" font-size="18.00" font-family="'Liberation Serif', serif" text-anchor="start" xml:space="preserve" textLength="29.0" lengthAdjust="spacingAndGlyphs">50%</text>
<text x="56.50" y="168.80" font-size="18.00" font-family="'Liberation Serif', serif" text-anchor="start" xml:space="preserve" textLength="29.0" lengthAdjust="spacingAndGlyphs">60%</text>
<text x="56.50" y="115.80" font-size="18.00" font-family="'Liberation Serif', serif" text-anchor="start" xml:space="preserve" textLength="29.0" lengthAdjust="spacingAndGlyphs">70%</text>
<text x="277.00" y="30.20" font-size="16.00" font-family="'Liberation Serif', 'Noto Sans CJK TC', serif" text-anchor="start" xml:space="preserve" textLength="272" lengthAdjust="spacingAndGlyphs">市民對特首董建華施政方針的滿意程度</text>
<text x="553.60" y="29.70" font-size="16.00" font-family="'Liberation Serif', serif" text-anchor="start" xml:space="preserve">(</text>
<text x="558.30" y="30.20" font-size="16.00" font-family="'Liberation Serif', 'Noto Sans CJK TC', serif" text-anchor="start" xml:space="preserve" textLength="64" lengthAdjust="spacingAndGlyphs">按次計算</text>
<text x="621.20" y="29.70" font-size="16.00" font-family="'Liberation Serif', serif" text-anchor="start" xml:space="preserve">)</text>
<text x="205.20" y="50.50" font-size="16.00" font-family="'Liberation Serif', serif" text-anchor="start" xml:space="preserve" textLength="55.7" lengthAdjust="spacingAndGlyphs">People's </text>
<text x="260.90" y="50.50" font-size="16.00" font-family="'Liberation Serif', serif" text-anchor="start" xml:space="preserve" textLength="72.7" lengthAdjust="spacingAndGlyphs">Satisfaction </text>
<text x="333.60" y="50.50" font-size="16.00" font-family="'Liberation Serif', serif" text-anchor="start" xml:space="preserve" textLength="29.2" lengthAdjust="spacingAndGlyphs">with </text>
<text x="362.80" y="50.50" font-size="16.00" font-family="'Liberation Serif', serif" text-anchor="start" xml:space="preserve" textLength="21.4" lengthAdjust="spacingAndGlyphs">the </text>
<text x="384.20" y="50.50" font-size="16.00" font-family="'Liberation Serif', serif" text-anchor="start" xml:space="preserve" textLength="41.8" lengthAdjust="spacingAndGlyphs">Policy </text>
<text x="426.00" y="50.50" font-size="16.00" font-family="'Liberation Serif', serif" text-anchor="start" xml:space="preserve" textLength="15.5" lengthAdjust="spacingAndGlyphs">of </text>
<text x="441.50" y="50.50" font-size="16.00" font-family="'Liberation Serif', serif" text-anchor="start" xml:space="preserve" textLength="35.3" lengthAdjust="spacingAndGlyphs">Chief </text>
<text x="476.80" y="50.50" font-size="16.00" font-family="'Liberation Serif', serif" text-anchor="start" xml:space="preserve" textLength="63.6" lengthAdjust="spacingAndGlyphs">Executive </text>
<text x="540.40" y="50.50" font-size="16.00" font-family="'Liberation Serif', serif" text-anchor="start" xml:space="preserve" textLength="33.1" lengthAdjust="spacingAndGlyphs">Tung </text>
<text x="573.50" y="50.50" font-size="16.00" font-family="'Liberation Serif', serif" text-anchor="start" xml:space="preserve" textLength="67.9" lengthAdjust="spacingAndGlyphs">Chee-hwa </text>
<text x="641.40" y="50.50" font-size="16.00" font-family="'Liberation Serif', serif" text-anchor="start" xml:space="preserve" textLength="27.8" lengthAdjust="spacingAndGlyphs">(per </text>
<text x="669.20" y="50.50" font-size="16.00" font-family="'Liberation Serif', serif" text-anchor="start" xml:space="preserve" textLength="27.4" lengthAdjust="spacingAndGlyphs">poll)</text>
<text x="255.50" y="73.70" font-size="16.00" font-family="'Liberation Serif', serif" text-anchor="start" xml:space="preserve">(</text>
<text x="260.60" y="74.20" font-size="16.00" font-family="'Liberation Serif', 'Noto Sans CJK TC', serif" text-anchor="start" xml:space="preserve" textLength="240" lengthAdjust="spacingAndGlyphs">二零零一年七月至二零零四年六月</text>
<text x="505.30" y="73.70" font-size="16.00" font-family="'Liberation Serif', serif" text-anchor="start" xml:space="preserve" textLength="28.0" lengthAdjust="spacingAndGlyphs">July </text>
<text x="533.30" y="73.70" font-size="16.00" font-family="'Liberation Serif', serif" text-anchor="start" xml:space="preserve" textLength="37.7" lengthAdjust="spacingAndGlyphs">2001 </text>
<text x="571.00" y="73.70" font-size="16.00" font-family="'Liberation Serif', serif" text-anchor="start" xml:space="preserve" textLength="8.6" lengthAdjust="spacingAndGlyphs">- </text>
<text x="579.60" y="73.70" font-size="16.00" font-family="'Liberation Serif', serif" text-anchor="start" xml:space="preserve" textLength="32.7" lengthAdjust="spacingAndGlyphs">June </text>
<text x="612.30" y="73.70" font-size="16.00" font-family="'Liberation Serif', serif" text-anchor="start" xml:space="preserve" textLength="36.0" lengthAdjust="spacingAndGlyphs">2004)</text>
<text x="440.00" y="587.50" font-size="16.00" font-family="'Liberation Serif', 'Noto Sans CJK TC', serif" text-anchor="start" xml:space="preserve" textLength="64" lengthAdjust="spacingAndGlyphs">調查日期</text>
<text x="505.40" y="586.50" font-size="16.00" font-family="'Liberation Serif', serif" text-anchor="start" xml:space="preserve" textLength="95.0" lengthAdjust="spacingAndGlyphs"> Date of Survey</text>
<g transform="translate(0,0) rotate(-90 31 354)">
<text x="29.30" y="353.30" font-size="15.00" font-family="'Liberation Serif', 'Noto Sans CJK TC', serif" text-anchor="start" xml:space="preserve" textLength="45" lengthAdjust="spacingAndGlyphs">百分比</text>
<text x="76.00" y="352.00" font-size="16.00" font-family="'Liberation Serif', serif" text-anchor="start" xml:space="preserve" textLength="72.8" lengthAdjust="spacingAndGlyphs"> Percentage</text>
</g>
<g transform="translate(95.7,506.7) rotate(-58) scale(0.957,1)">
<text x="0.00" y="0.00" font-size="15.00" font-family="'Liberation Serif', serif" text-anchor="end" xml:space="preserve">16-18/7/01</text>
</g>
<g transform="translate(120.7,506.7) rotate(-58) scale(0.957,1)">
<text x="0.00" y="0.00" font-size="15.00" font-family="'Liberation Serif', serif" text-anchor="end" xml:space="preserve">17-24/8/01</text>
</g>
<g transform="translate(145.7,506.7) rotate(-58) scale(0.957,1)">
<text x="0.00" y="0.00" font-size="15.00" font-family="'Liberation Serif', serif" text-anchor="end" xml:space="preserve">13-21/9/01</text>
</g>
<g transform="translate(170.7,506.7) rotate(-58) scale(0.957,1)">
<text x="0.00" y="0.00" font-size="15.00" font-family="'Liberation Serif', serif" text-anchor="end" xml:space="preserve">26-29/10/01</text>
</g>
<g transform="translate(195.7,506.7) rotate(-58) scale(0.957,1)">
<text x="0.00" y="0.00" font-size="15.00" font-family="'Liberation Serif', serif" text-anchor="end" xml:space="preserve">15-20/11/01</text>
</g>
<g transform="translate(220.7,506.7) rotate(-58) scale(0.957,1)">
<text x="0.00" y="0.00" font-size="15.00" font-family="'Liberation Serif', serif" text-anchor="end" xml:space="preserve">17-19/12/01</text>
</g>
<g transform="translate(244.7,506.7) rotate(-58) scale(0.957,1)">
<text x="0.00" y="0.00" font-size="15.00" font-family="'Liberation Serif', serif" text-anchor="end" xml:space="preserve">15-17/1/02</text>
</g>
<g transform="translate(269.7,506.7) rotate(-58) scale(0.957,1)">
<text x="0.00" y="0.00" font-size="15.00" font-family="'Liberation Serif', serif" text-anchor="end" xml:space="preserve">18-21/2/02</text>
</g>
<g transform="translate(294.7,506.7) rotate(-58) scale(0.957,1)">
<text x="0.00" y="0.00" font-size="15.00" font-family="'Liberation Serif', serif" text-anchor="end" xml:space="preserve">12-13/3/02</text>
</g>
<g transform="translate(319.7,506.7) rotate(-58) scale(0.957,1)">
<text x="0.00" y="0.00" font-size="15.00" font-family="'Liberation Serif', serif" text-anchor="end" xml:space="preserve">15-17/4/02</text>
</g>
<g transform="translate(344.7,506.7) rotate(-58) scale(0.957,1)">
<text x="0.00" y="0.00" font-size="15.00" font-family="'Liberation Serif', serif" text-anchor="end" xml:space="preserve">14-16/5/02</text>
</g>
<g transform="translate(369.7,506.7) rotate(-58) scale(0.957,1)">
<text x="0.00" y="0.00" font-size="15.00" font-family="'Liberation Serif', serif" text-anchor="end" xml:space="preserve">17-19/6/02</text>
</g>
<g transform="translate(394.7,506.7) rotate(-58) scale(0.957,1)">
<text x="0.00" y="0.00" font-size="15.00" font-family="'Liberation Serif', serif" text-anchor="end" xml:space="preserve">10-15/7/02</text>
</g>
<g transform="translate(419.7,506.7) rotate(-58) scale(0.957,1)">
<text x="0.00" y="0.00" font-size="15.00" font-family="'Liberation Serif', serif" text-anchor="end" xml:space="preserve">14-19/8/02</text>
</g>
<g transform="translate(444.7,506.7) rotate(-58) scale(0.957,1)">
<text x="0.00" y="0.00" font-size="15.00" font-family="'Liberation Serif', serif" text-anchor="end" xml:space="preserve">12-17/9/02</text>
</g>
<g transform="translate(469.7,506.7) rotate(-58) scale(0.957,1)">
<text x="0.00" y="0.00" font-size="15.00" font-family="'Liberation Serif', serif" text-anchor="end" xml:space="preserve">13-16/10/02</text>
</g>
<g transform="translate(494.7,506.7) rotate(-58) scale(0.957,1)">
<text x="0.00" y="0.00" font-size="15.00" font-family="'Liberation Serif', serif" text-anchor="end" xml:space="preserve">13-20/11/02</text>
</g>
<g transform="translate(519.7,506.7) rotate(-58) scale(0.957,1)">
<text x="0.00" y="0.00" font-size="15.00" font-family="'Liberation Serif', serif" text-anchor="end" xml:space="preserve">13-18/12/02</text>
</g>
<g transform="translate(543.7,506.7) rotate(-58) scale(0.957,1)">
<text x="0.00" y="0.00" font-size="15.00" font-family="'Liberation Serif', serif" text-anchor="end" xml:space="preserve">8-9/1/03</text>
</g>
<g transform="translate(568.7,506.7) rotate(-58) scale(0.957,1)">
<text x="0.00" y="0.00" font-size="15.00" font-family="'Liberation Serif', serif" text-anchor="end" xml:space="preserve">20-23/1/03</text>
</g>
<g transform="translate(593.7,506.7) rotate(-58) scale(0.957,1)">
<text x="0.00" y="0.00" font-size="15.00" font-family="'Liberation Serif', serif" text-anchor="end" xml:space="preserve">23-28/1/03</text>
</g>
<g transform="translate(618.7,506.7) rotate(-58) scale(0.957,1)">
<text x="0.00" y="0.00" font-size="15.00" font-family="'Liberation Serif', serif" text-anchor="end" xml:space="preserve">14-18/2/03</text>
</g>
<g transform="translate(643.7,506.7) rotate(-58) scale(0.957,1)">
<text x="0.00" y="0.00" font-size="15.00" font-family="'Liberation Serif', serif" text-anchor="end" xml:space="preserve">17-19/3/03</text>
</g>
<g transform="translate(668.7,506.7) rotate(-58) scale(0.957,1)">
<text x="0.00" y="0.00" font-size="15.00" font-family="'Liberation Serif', serif" text-anchor="end" xml:space="preserve">16-23/4/03</text>
</g>
<g transform="translate(693.7,506.7) rotate(-58) scale(0.957,1)">
<text x="0.00" y="0.00" font-size="15.00" font-family="'Liberation Serif', serif" text-anchor="end" xml:space="preserve">15-20/5/03</text>
</g>
<g transform="translate(718.7,506.7) rotate(-58) scale(0.957,1)">
<text x="0.00" y="0.00" font-size="15.00" font-family="'Liberation Serif', serif" text-anchor="end" xml:space="preserve">13-18/6/03</text>
</g>
<g transform="translate(743.7,506.7) rotate(-58) scale(0.957,1)">
<text x="0.00" y="0.00" font-size="15.00" font-family="'Liberation Serif', serif" text-anchor="end" xml:space="preserve">14-16/7/03</text>
</g>
<g transform="translate(768.7,506.7) rotate(-58) scale(0.957,1)">
<text x="0.00" y="0.00" font-size="15.00" font-family="'Liberation Serif', serif" text-anchor="end" xml:space="preserve">18-20/8/03</text>
</g>
<g transform="translate(793.7,506.7) rotate(-58) scale(0.957,1)">
<text x="0.00" y="0.00" font-size="15.00" font-family="'Liberation Serif', serif" text-anchor="end" xml:space="preserve">19-22/10/03</text>
</g>
<g transform="translate(817.7,506.7) rotate(-58) scale(0.957,1)">
<text x="0.00" y="0.00" font-size="15.00" font-family="'Liberation Serif', serif" text-anchor="end" xml:space="preserve">20-23/12/03</text>
</g>
<g transform="translate(842.7,506.7) rotate(-58) scale(0.957,1)">
<text x="0.00" y="0.00" font-size="15.00" font-family="'Liberation Serif', serif" text-anchor="end" xml:space="preserve">7/1/04</text>
</g>
<g transform="translate(867.7,506.7) rotate(-58) scale(0.957,1)">
<text x="0.00" y="0.00" font-size="15.00" font-family="'Liberation Serif', serif" text-anchor="end" xml:space="preserve">14-16/1/04</text>
</g>
<g transform="translate(892.7,506.7) rotate(-58) scale(0.957,1)">
<text x="0.00" y="0.00" font-size="15.00" font-family="'Liberation Serif', serif" text-anchor="end" xml:space="preserve">20-23/2/04</text>
</g>
<g transform="translate(917.7,506.7) rotate(-58) scale(0.957,1)">
<text x="0.00" y="0.00" font-size="15.00" font-family="'Liberation Serif', serif" text-anchor="end" xml:space="preserve">19-22/4/04</text>
</g>
<g transform="translate(942.7,506.7) rotate(-58) scale(0.957,1)">
<text x="0.00" y="0.00" font-size="15.00" font-family="'Liberation Serif', serif" text-anchor="end" xml:space="preserve">21-24/6/04</text>
</g>
<rect x="775.5" y="5.5" width="156" height="115" fill="#fff" stroke="#000" stroke-width="1" shape-rendering="crispEdges"/>
<g shape-rendering="crispEdges">
<line x1="808" y1="17.5" x2="835" y2="17.5" stroke="#00ff00"/>
<rect x="818" y="14" width="6" height="6" fill="#00ff00"/>
<line x1="808" y1="54.5" x2="835" y2="54.5" stroke="#808080"/>
<path d="M821 51.5h1M820 52.5h3M819 53.5h5M818 54.5h7M819 55.5h5M820 56.5h3M821 57.5h1" stroke="#808080" stroke-width="1" fill="none"/>
<line x1="808" y1="90.5" x2="835" y2="90.5" stroke="#ff0000"/>
<path d="M821 87.5h1M820 88.5h2M820 89.5h3M819 90.5h4M819 91.5h5M818 92.5h6M818 93.5h7" stroke="#ff0000" stroke-width="1" fill="none"/>
</g>
<text x="838.50" y="23.20" font-size="15.00" font-family="'Liberation Serif', 'Noto Sans CJK TC', serif" text-anchor="start" xml:space="preserve" textLength="30" lengthAdjust="spacingAndGlyphs">滿意</text>
<text x="838.80" y="41.70" font-size="16.00" font-family="'Liberation Serif', serif" text-anchor="start" xml:space="preserve" textLength="47.9" lengthAdjust="spacingAndGlyphs">Satisfied</text>
<text x="838.50" y="60.30" font-size="15.00" font-family="'Liberation Serif', 'Noto Sans CJK TC', serif" text-anchor="start" xml:space="preserve" textLength="45" lengthAdjust="spacingAndGlyphs">一半半</text>
<text x="838.80" y="78.70" font-size="16.00" font-family="'Liberation Serif', serif" text-anchor="start" xml:space="preserve" textLength="50.5" lengthAdjust="spacingAndGlyphs">Half-half</text>
<text x="838.50" y="96.80" font-size="15.00" font-family="'Liberation Serif', 'Noto Sans CJK TC', serif" text-anchor="start" xml:space="preserve" textLength="45" lengthAdjust="spacingAndGlyphs">不滿意</text>
<text x="838.80" y="115.00" font-size="16.00" font-family="'Liberation Serif', serif" text-anchor="start" xml:space="preserve" textLength="64.0" lengthAdjust="spacingAndGlyphs">Dissatisfied</text>
</svg>
</body></html>
